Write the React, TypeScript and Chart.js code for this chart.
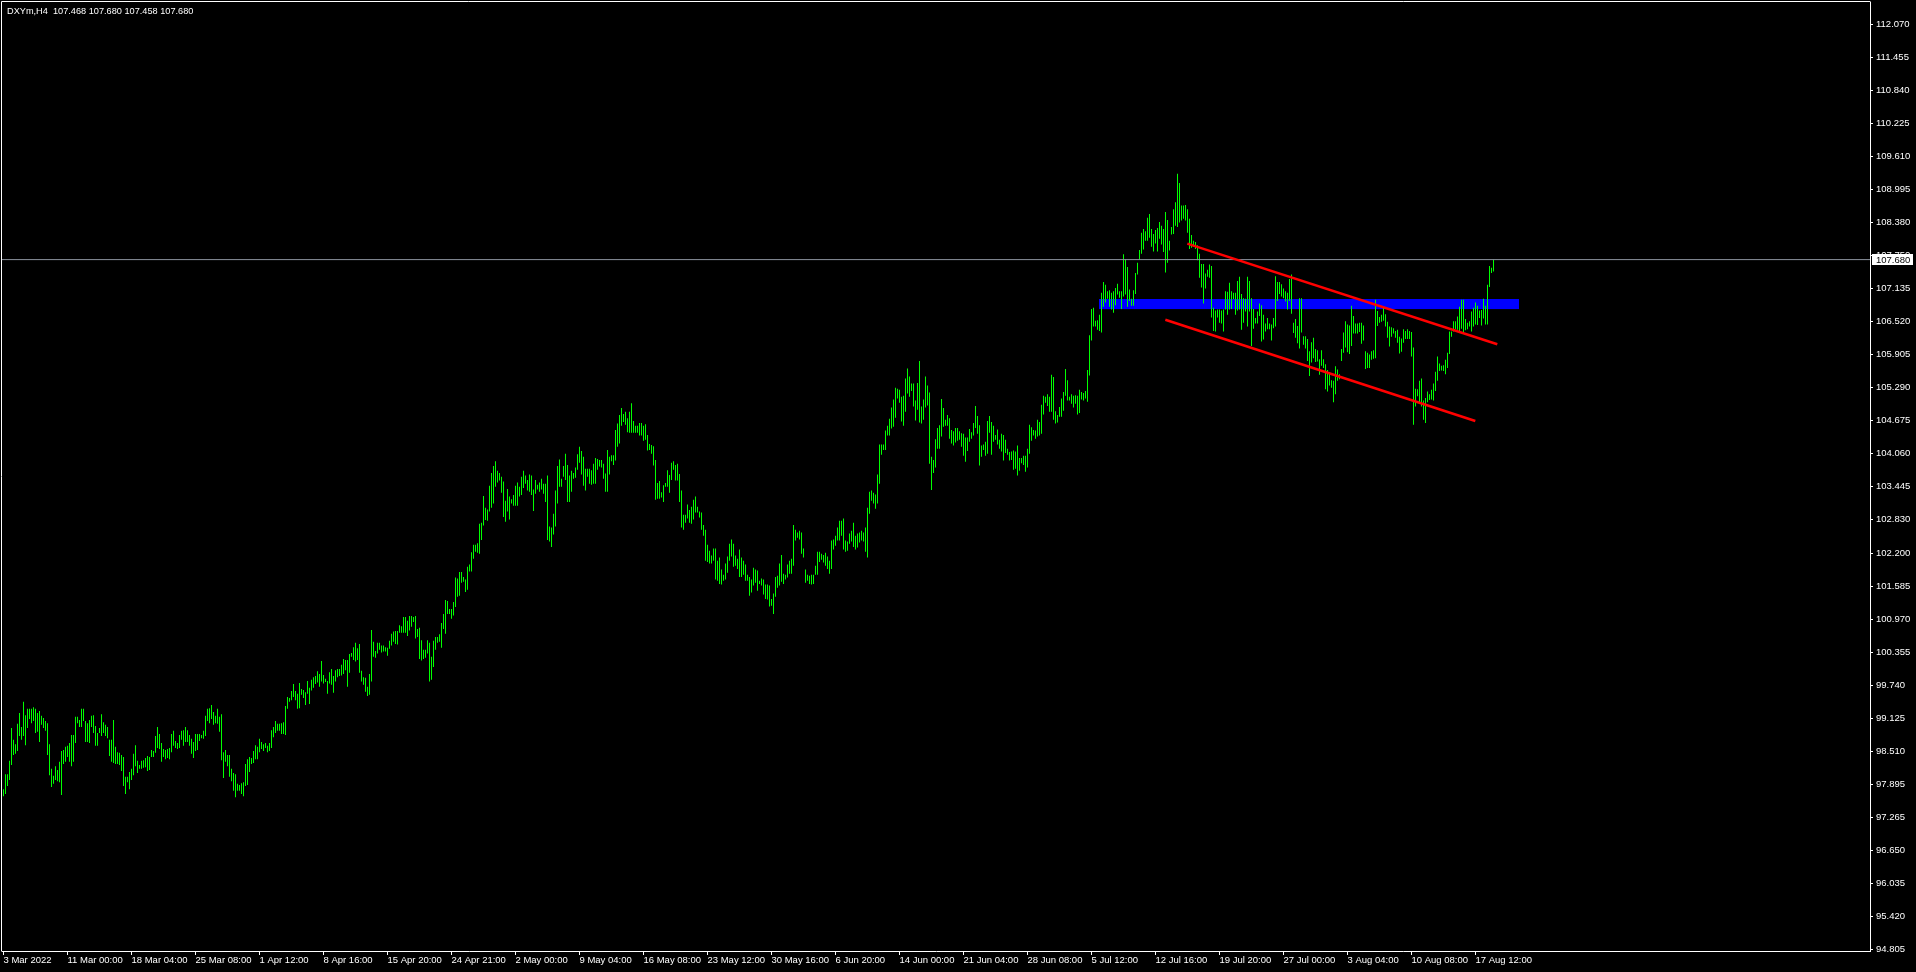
import { useEffect, useRef } from "react";
import { Chart, registerables } from "chart.js";

Chart.register(...registerables);

const chartTitle = "DXYm,H4  107.468 107.680 107.458 107.680";

const barHigh = [
  97.80, 98.08, 98.08, 98.33, 98.94, 98.72, 98.64, 99.02, 99.22, 98.96,
  99.43, 99.18, 99.30, 99.30, 99.30, 99.33, 99.30, 99.22, 99.26, 99.17,
  99.13, 99.07, 99.03, 98.64, 98.18, 98.05, 98.23, 98.16, 98.31, 98.51,
  98.53, 98.59, 98.61, 98.66, 98.81, 98.81, 99.15, 99.15, 99.09, 99.30,
  99.30, 99.07, 99.03, 99.09, 99.17, 99.18, 98.98, 98.85, 98.94, 99.20,
  99.05, 99.00, 98.96, 98.72, 98.72, 99.09, 98.59, 98.49, 98.48, 98.44,
  98.40, 98.03, 98.03, 98.12, 98.18, 98.46, 98.62, 98.33, 98.25, 98.33,
  98.34, 98.38, 98.42, 98.40, 98.53, 98.51, 98.79, 98.96, 98.83, 98.66,
  98.55, 98.53, 98.55, 98.57, 98.83, 98.89, 98.70, 98.66, 98.81, 98.89,
  98.90, 98.96, 98.90, 98.81, 98.74, 98.68, 98.83, 98.83, 98.83, 98.81,
  98.89, 99.17, 99.30, 99.31, 99.37, 99.24, 99.17, 99.30, 99.15, 99.20,
  98.49, 98.53, 98.44, 98.44, 98.18, 98.10, 98.08, 97.90, 97.88, 97.91,
  97.93, 98.27, 98.36, 98.40, 98.38, 98.51, 98.62, 98.59, 98.74, 98.68,
  98.64, 98.66, 98.61, 98.66, 98.90, 98.96, 99.07, 99.02, 99.02, 99.03,
  99.05, 99.35, 99.52, 99.50, 99.63, 99.76, 99.63, 99.58, 99.78, 99.67,
  99.65, 99.61, 99.82, 99.69, 99.84, 99.89, 99.91, 100.00, 99.95, 100.19,
  99.93, 99.86, 99.82, 99.98, 100.04, 99.91, 100.02, 100.04, 100.04, 100.12,
  100.23, 100.21, 100.21, 100.32, 100.34, 100.45, 100.53, 100.43, 100.51, 100.01,
  99.89, 99.88, 99.71, 99.95, 100.77, 100.55, 100.38, 100.53, 100.53, 100.48,
  100.48, 100.45, 100.44, 100.57, 100.70, 100.74, 100.75, 100.75, 100.86, 100.84,
  101.01, 101.01, 100.94, 101.03, 101.03, 101.01, 101.03, 100.79, 100.81, 100.58,
  100.40, 100.40, 100.58, 100.53, 100.27, 100.57, 100.64, 100.64, 100.69, 100.90,
  101.07, 101.33, 101.31, 101.16, 101.16, 101.29, 101.75, 101.73, 101.85, 101.85,
  101.76, 101.71, 101.95, 101.99, 102.22, 102.36, 102.36, 102.39, 102.75, 102.77,
  103.27, 103.05, 103.02, 103.46, 103.70, 103.83, 103.92, 103.74, 103.70, 103.63,
  103.54, 103.18, 103.40, 103.26, 103.21, 103.29, 103.46, 103.52, 103.44, 103.63,
  103.74, 103.65, 103.57, 103.67, 103.65, 103.39, 103.57, 103.48, 103.52, 103.59,
  103.50, 103.50, 103.65, 102.70, 102.68, 102.94, 103.37, 103.83, 103.95, 103.59,
  103.83, 104.06, 103.85, 103.65, 103.74, 103.70, 103.80, 104.05, 104.19, 104.11,
  104.00, 103.78, 103.78, 103.78, 103.75, 103.87, 103.98, 103.96, 103.94, 103.94,
  103.87, 103.69, 104.13, 104.00, 104.03, 104.03, 104.50, 104.62, 104.78, 104.91,
  104.80, 104.84, 104.72, 104.84, 105.00, 104.67, 104.58, 104.58, 104.63, 104.63,
  104.58, 104.61, 104.41, 104.24, 104.22, 104.20, 103.94, 103.51, 103.55, 103.34,
  103.47, 103.51, 103.75, 103.66, 103.89, 103.92, 103.85, 103.87, 103.68, 103.37,
  102.92, 102.92, 103.11, 103.01, 103.07, 103.20, 103.26, 103.07, 102.98, 102.96,
  102.73, 102.64, 102.36, 102.25, 102.16, 102.29, 102.29, 102.06, 102.12, 101.90,
  101.80, 102.01, 102.14, 102.38, 102.46, 102.38, 102.16, 102.10, 102.27, 102.12,
  102.06, 101.99, 101.80, 101.76, 101.71, 101.93, 101.90, 101.88, 101.69, 101.73,
  101.71, 101.62, 101.62, 101.60, 101.35, 101.45, 101.76, 101.78, 102.01, 102.17,
  101.82, 101.80, 101.99, 102.06, 102.10, 102.73, 102.64, 102.59, 102.62, 102.59,
  102.29, 101.90, 101.80, 101.78, 101.80, 101.80, 101.97, 102.23, 102.23, 102.19,
  102.17, 102.21, 102.14, 102.06, 102.44, 102.46, 102.53, 102.68, 102.81, 102.81,
  102.85, 102.44, 102.42, 102.57, 102.62, 102.77, 102.53, 102.57, 102.59, 102.62,
  102.59, 102.68, 103.05, 103.35, 103.37, 103.33, 103.30, 103.67, 104.23, 104.23,
  104.23, 104.49, 104.58, 104.71, 104.92, 105.07, 105.29, 105.27, 105.25, 105.12,
  105.14, 105.46, 105.65, 105.50, 105.37, 105.37, 105.05, 105.38, 105.79, 104.94,
  105.07, 105.50, 105.33, 105.20, 104.00, 103.94, 104.33, 104.54, 104.59, 105.08,
  104.91, 104.69, 104.78, 104.72, 104.50, 104.48, 104.54, 104.54, 104.48, 104.44,
  104.43, 104.36, 104.36, 104.52, 104.46, 104.63, 104.95, 104.76, 104.59, 104.21,
  104.23, 104.28, 104.67, 104.76, 104.65, 104.58, 104.41, 104.51, 104.32, 104.43,
  104.41, 104.32, 104.15, 104.09, 104.10, 104.12, 104.10, 104.21, 103.98, 103.98,
  104.02, 104.02, 104.15, 104.60, 104.55, 104.50, 104.49, 104.69, 104.65, 104.97,
  105.14, 105.12, 105.17, 105.12, 105.53, 105.49, 104.85, 104.78, 104.93, 105.09,
  105.21, 105.64, 105.43, 105.12, 105.17, 105.14, 105.15, 105.14, 105.25, 105.21,
  105.19, 105.23, 105.62, 106.27, 106.76, 106.78, 106.54, 106.55, 106.65, 107.06,
  107.26, 107.21, 107.09, 107.11, 107.06, 107.09, 107.15, 107.23, 107.09, 107.09,
  107.78, 107.69, 107.54, 107.12, 106.95, 107.11, 107.43, 107.62, 107.86, 108.18,
  108.25, 108.21, 108.46, 108.53, 108.25, 108.16, 108.23, 108.27, 108.38, 108.31,
  108.25, 108.57, 108.42, 108.03, 108.29, 108.62, 108.75, 109.28, 109.11, 108.69,
  108.69, 108.70, 108.62, 108.44, 108.14, 108.03, 108.01, 107.95, 107.79, 107.60,
  107.60, 107.42, 107.49, 107.59, 107.56, 106.78, 106.73, 106.75, 106.75, 106.73,
  106.75, 107.09, 107.08, 107.25, 107.09, 107.06, 107.06, 107.28, 107.36, 107.04,
  106.96, 106.95, 107.36, 107.28, 106.96, 106.76, 106.59, 106.71, 106.86, 106.83,
  106.65, 106.49, 106.59, 106.49, 106.47, 106.59, 107.37, 107.26, 107.26, 107.22,
  107.14, 107.09, 107.06, 107.32, 107.40, 106.50, 106.57, 106.44, 106.96, 106.96,
  106.25, 106.25, 106.20, 105.97, 106.14, 106.22, 106.01, 105.99, 105.82, 105.99,
  105.82, 105.73, 105.62, 105.58, 105.43, 105.42, 105.69, 105.63, 105.54, 106.01,
  106.32, 106.53, 106.47, 106.45, 106.82, 106.63, 106.49, 106.49, 106.50, 106.50,
  106.45, 105.97, 105.94, 105.91, 105.97, 105.99, 106.93, 106.72, 106.61, 106.65,
  106.78, 106.66, 106.52, 106.43, 106.42, 106.40, 106.35, 106.37, 106.24, 106.21,
  106.38, 106.35, 106.38, 106.35, 106.33, 106.04, 105.27, 105.26, 105.42, 105.46,
  105.05, 105.10, 105.22, 105.17, 105.25, 105.37, 105.59, 105.87, 105.74, 105.70,
  105.71, 105.81, 105.94, 106.34, 106.34, 106.53, 106.53, 106.62, 106.80, 106.93,
  106.93, 106.57, 106.50, 106.53, 106.71, 106.78, 106.88, 106.82, 106.73, 106.74,
  106.95, 106.82, 107.21, 107.56, 107.53, 107.68,
];

const barLow = [
  97.67, 97.71, 97.86, 97.97, 98.25, 98.44, 98.46, 98.51, 98.79, 98.72,
  98.79, 98.62, 98.94, 99.11, 99.03, 99.07, 98.85, 98.87, 98.68, 99.00,
  98.94, 98.89, 98.44, 98.06, 97.84, 97.90, 97.97, 97.95, 97.93, 97.69,
  98.27, 98.31, 98.40, 98.31, 98.23, 98.31, 98.66, 99.03, 98.96, 98.96,
  99.07, 98.68, 98.68, 98.66, 98.96, 98.85, 98.61, 98.61, 98.85, 98.79,
  98.85, 98.79, 98.75, 98.42, 98.31, 98.29, 98.27, 98.27, 98.25, 98.14,
  97.86, 97.71, 97.93, 97.80, 97.97, 98.06, 98.23, 98.10, 98.18, 98.18,
  98.20, 98.21, 98.14, 98.16, 98.40, 98.40, 98.48, 98.57, 98.55, 98.31,
  98.40, 98.36, 98.38, 98.36, 98.49, 98.61, 98.57, 98.55, 98.57, 98.72,
  98.61, 98.68, 98.68, 98.61, 98.46, 98.38, 98.51, 98.53, 98.70, 98.75,
  98.74, 98.79, 99.07, 99.03, 99.11, 99.00, 99.03, 99.02, 98.87, 98.34,
  98.01, 98.31, 98.23, 98.03, 97.95, 97.77, 97.65, 97.77, 97.77, 97.71,
  97.67, 97.86, 97.88, 98.12, 98.27, 98.29, 98.36, 98.36, 98.49, 98.55,
  98.51, 98.57, 98.49, 98.51, 98.57, 98.77, 98.85, 98.89, 98.89, 98.83,
  98.83, 98.81, 99.30, 99.43, 99.46, 99.52, 99.46, 99.30, 99.31, 99.56,
  99.50, 99.37, 99.58, 99.39, 99.64, 99.69, 99.76, 99.79, 99.71, 99.81,
  99.77, 99.80, 99.58, 99.77, 99.75, 99.60, 99.81, 99.89, 99.91, 99.92,
  99.95, 100.02, 99.71, 99.97, 100.27, 100.21, 100.18, 100.21, 99.97, 99.81,
  99.75, 99.62, 99.54, 99.56, 99.81, 100.27, 100.25, 100.33, 100.40, 100.35,
  100.37, 100.37, 100.29, 100.42, 100.48, 100.55, 100.51, 100.50, 100.72, 100.72,
  100.72, 100.72, 100.66, 100.76, 100.83, 100.92, 100.61, 100.64, 100.23, 100.20,
  100.23, 100.25, 100.33, 99.81, 99.84, 100.08, 100.40, 100.53, 100.55, 100.44,
  100.79, 100.70, 101.07, 101.07, 100.98, 101.04, 101.20, 101.39, 101.41, 101.65,
  101.67, 101.48, 101.52, 101.86, 101.86, 102.10, 102.23, 102.21, 102.19, 102.45,
  102.72, 102.82, 102.81, 102.98, 103.05, 103.13, 103.44, 103.52, 103.56, 103.33,
  102.88, 102.79, 102.98, 102.83, 103.13, 103.09, 103.09, 103.09, 103.26, 103.29,
  103.42, 103.50, 103.37, 103.35, 103.29, 102.99, 103.31, 103.39, 103.35, 103.39,
  103.31, 103.16, 102.45, 102.42, 102.32, 102.55, 102.70, 103.13, 103.44, 103.44,
  103.63, 103.57, 103.16, 103.16, 103.35, 103.59, 103.61, 103.76, 103.89, 103.67,
  103.46, 103.37, 103.63, 103.50, 103.48, 103.50, 103.50, 103.76, 103.82, 103.80,
  103.59, 103.35, 103.35, 103.67, 103.92, 103.85, 103.93, 104.19, 104.25, 104.58,
  104.65, 104.60, 104.46, 104.45, 104.45, 104.45, 104.45, 104.45, 104.40, 104.40,
  104.30, 104.32, 104.12, 104.13, 104.06, 103.84, 103.20, 103.22, 103.22, 103.24,
  103.16, 103.44, 103.44, 103.33, 103.57, 103.76, 103.56, 103.56, 103.16, 102.68,
  102.64, 102.77, 102.85, 102.77, 102.75, 102.83, 102.96, 102.96, 102.87, 102.64,
  102.53, 102.06, 102.04, 102.01, 102.01, 102.06, 101.71, 101.69, 101.63, 101.62,
  101.69, 101.71, 101.84, 102.06, 102.14, 101.95, 101.97, 101.91, 101.76, 101.76,
  101.80, 101.69, 101.69, 101.41, 101.47, 101.60, 101.65, 101.50, 101.63, 101.60,
  101.43, 101.35, 101.34, 101.21, 101.22, 101.07, 101.39, 101.56, 101.60, 101.67,
  101.63, 101.71, 101.75, 101.82, 101.82, 101.97, 102.44, 102.49, 102.46, 102.19,
  102.12, 101.65, 101.69, 101.63, 101.62, 101.63, 101.80, 101.80, 102.04, 102.08,
  102.03, 101.97, 101.91, 101.82, 101.91, 102.27, 102.34, 102.44, 102.44, 102.53,
  102.27, 102.23, 102.25, 102.38, 102.42, 102.32, 102.27, 102.31, 102.40, 102.44,
  102.42, 102.23, 102.12, 102.94, 103.18, 103.13, 103.03, 103.13, 103.50, 104.04,
  104.13, 104.13, 104.40, 104.40, 104.53, 104.56, 104.73, 105.09, 105.01, 104.66,
  104.58, 104.84, 105.18, 105.12, 105.23, 104.94, 104.68, 104.88, 104.64, 104.62,
  104.69, 104.92, 104.96, 103.87, 103.38, 103.70, 103.80, 104.15, 104.15, 104.38,
  104.56, 104.58, 104.58, 104.34, 104.25, 104.21, 104.27, 104.30, 104.32, 104.19,
  104.02, 103.91, 104.11, 104.28, 104.34, 104.40, 104.54, 104.43, 103.84, 104.00,
  104.13, 104.02, 104.06, 104.45, 104.04, 104.28, 104.32, 104.23, 104.15, 104.10,
  103.93, 104.07, 104.04, 103.93, 103.94, 103.76, 103.78, 103.65, 103.74, 103.88,
  103.85, 103.72, 103.80, 104.06, 104.30, 104.40, 104.34, 104.38, 104.40, 104.43,
  104.79, 105.01, 104.95, 104.84, 104.84, 104.69, 104.62, 104.64, 104.75, 104.75,
  104.86, 105.14, 105.05, 105.05, 104.99, 104.92, 104.99, 104.79, 104.82, 105.07,
  105.05, 105.09, 105.03, 105.52, 106.17, 106.43, 106.43, 106.37, 106.35, 106.32,
  106.80, 106.88, 106.95, 106.80, 106.75, 106.69, 106.83, 107.03, 106.97, 106.76,
  106.99, 107.03, 106.80, 106.91, 106.82, 106.82, 107.04, 107.40, 107.68, 107.79,
  107.87, 108.03, 108.03, 108.09, 107.92, 107.83, 107.98, 107.83, 108.07, 107.96,
  107.82, 107.44, 107.62, 107.85, 108.15, 108.16, 108.31, 108.29, 108.37, 108.41,
  108.44, 108.41, 108.18, 107.88, 107.90, 107.92, 107.88, 107.67, 107.34, 107.16,
  106.86, 107.14, 107.36, 107.34, 106.60, 106.35, 106.34, 106.60, 106.50, 106.49,
  106.34, 106.75, 106.65, 106.75, 106.76, 106.94, 106.65, 106.73, 106.75, 106.37,
  106.50, 106.71, 106.43, 106.71, 106.07, 106.39, 106.49, 106.49, 106.63, 106.15,
  106.19, 106.34, 106.38, 106.38, 106.17, 106.40, 106.43, 106.91, 107.04, 106.99,
  106.96, 106.90, 106.75, 106.91, 106.67, 106.31, 106.22, 106.12, 106.02, 106.32,
  106.09, 106.02, 105.79, 105.51, 105.76, 105.84, 105.77, 105.78, 105.53, 105.70,
  105.66, 105.26, 105.22, 105.33, 105.29, 105.02, 105.17, 105.42, 105.45, 105.79,
  105.94, 106.04, 105.95, 105.92, 106.07, 106.30, 106.30, 106.30, 106.33, 106.11,
  106.17, 105.64, 105.66, 105.66, 105.81, 105.83, 105.84, 106.44, 106.50, 106.52,
  106.54, 106.43, 106.22, 106.06, 106.24, 106.30, 106.22, 106.13, 105.93, 105.96,
  106.13, 106.20, 106.20, 106.20, 105.87, 104.60, 104.94, 105.13, 105.02, 104.94,
  104.69, 104.63, 105.02, 105.06, 105.07, 105.05, 105.23, 105.42, 105.60, 105.61,
  105.60, 105.54, 105.66, 105.92, 106.24, 106.34, 106.38, 106.37, 106.35, 106.39,
  106.30, 106.36, 106.38, 106.43, 106.34, 106.43, 106.47, 106.46, 106.59, 106.45,
  106.58, 106.47, 106.47, 107.17, 107.43, 107.46,
];

const xTickIndex = [
  0, 32, 64, 96, 128, 160, 192, 224, 256, 288, 320, 352,
  384, 416, 448, 480, 512, 544, 576, 608, 640, 672, 704, 736,
];
const xTickLabels = [
  "3 Mar 2022", "11 Mar 00:00", "18 Mar 04:00", "25 Mar 08:00", "1 Apr 12:00", "8 Apr 16:00",
  "15 Apr 20:00", "24 Apr 21:00", "2 May 00:00", "9 May 04:00", "16 May 08:00", "23 May 12:00",
  "30 May 16:00", "6 Jun 20:00", "14 Jun 00:00", "21 Jun 04:00", "28 Jun 08:00", "5 Jul 12:00",
  "12 Jul 16:00", "19 Jul 20:00", "27 Jul 00:00", "3 Aug 04:00", "10 Aug 08:00", "17 Aug 12:00",
];

const yTickValues = [
  112.07, 111.455, 110.84, 110.225, 109.61, 108.995, 108.38, 107.75, 107.135, 106.52,
  105.905, 105.29, 104.675, 104.06, 103.445, 102.83, 102.2, 101.585, 100.97, 100.355,
  99.74, 99.125, 98.51, 97.895, 97.265, 96.65, 96.035, 95.42, 94.805,
];

const currentPrice = 107.68;
const zoneX = [547.75, 757.75];
const zoneY = [106.945, 106.757];
const upperLineX = [591.9, 746.9];
const upperLineY = [107.977, 106.1];
const lowerLineX = [580.9, 735.9];
const lowerLineY = [106.559, 104.669];

const yMin = 94.781;
const yMax = 112.486;
const xMin = -0.75;
const xMax = 933.25;

const FONT = "'Liberation Sans', Arial, sans-serif";

export default function App() {
  const ref = useRef<HTMLCanvasElement | null>(null);

  useEffect(() => {
    const canvas = ref.current;
    if (!canvas) return;

    const decor = {
      id: "mt4decor",
      beforeDatasetsDraw(chart: any) {
        const { ctx } = chart;
        const xs = chart.scales.x;
        const ys = chart.scales.y;
        const x1 = xs.getPixelForValue(zoneX[0]);
        const x2 = xs.getPixelForValue(zoneX[1]);
        const y1 = ys.getPixelForValue(zoneY[0]);
        const y2 = ys.getPixelForValue(zoneY[1]);
        ctx.save();
        ctx.fillStyle = "#0000ff";
        ctx.fillRect(x1, y1, x2 - x1, y2 - y1);
        ctx.restore();
      },
      afterDraw(chart: any) {
        const { ctx, chartArea } = chart;
        const ys = chart.scales.y;
        ctx.save();
        ctx.strokeStyle = "#ffffff";
        ctx.lineWidth = 1;
        ctx.beginPath();
        ctx.moveTo(chartArea.left - 0.5, chartArea.bottom + 0.5);
        ctx.lineTo(chartArea.left - 0.5, chartArea.top - 0.5);
        ctx.lineTo(chartArea.right + 0.5, chartArea.top - 0.5);
        ctx.stroke();
        ctx.fillStyle = "#ffffff";
        ctx.font = `9.2px ${FONT}`;
        ctx.textBaseline = "middle";
        ctx.textAlign = "left";
        ctx.fillText(chartTitle, 7, 11);
        const py = Math.round(ys.getPixelForValue(currentPrice));
        ctx.fillStyle = "#ffffff";
        ctx.fillRect(chartArea.right + 2, py - 6, 41, 11);
        ctx.fillStyle = "#000000";
        ctx.font = `9.5px ${FONT}`;
        ctx.fillText(currentPrice.toFixed(3), chartArea.right + 6, py);
        ctx.restore();
      },
    };

    const chart = new Chart(canvas, {
      type: "bar",
      data: {
        datasets: [
          {
            type: "line",
            data: [
              { x: upperLineX[0], y: upperLineY[0] },
              { x: upperLineX[1], y: upperLineY[1] },
            ],
            borderColor: "#ff0000",
            borderWidth: 2.5,
            pointRadius: 0,
            fill: false,
            order: 1,
          },
          {
            type: "line",
            data: [
              { x: lowerLineX[0], y: lowerLineY[0] },
              { x: lowerLineX[1], y: lowerLineY[1] },
            ],
            borderColor: "#ff0000",
            borderWidth: 2.5,
            pointRadius: 0,
            fill: false,
            order: 1,
          },
          {
            type: "line",
            data: [
              { x: xMin, y: currentPrice },
              { x: xMax, y: currentPrice },
            ],
            borderColor: "#8a919c",
            borderWidth: 1,
            pointRadius: 0,
            fill: false,
            order: 2,
          },
          {
            type: "bar",
            data: barHigh.map((h, i) => ({ x: i, y: [barLow[i], h] })) as any,
            backgroundColor: "#00ff00",
            borderWidth: 0,
            barThickness: 1,
            maxBarThickness: 1,
            inflateAmount: 0,
            order: 3,
          } as any,
        ],
      },
      options: {
        animation: false,
        responsive: false,
        devicePixelRatio: 1,
        events: [],
        layout: { padding: { left: 2, top: 2, right: 0, bottom: 0 } },
        plugins: { legend: { display: false }, tooltip: { enabled: false } },
        scales: {
          x: {
            type: "linear",
            min: xMin,
            max: xMax,
            offset: false,
            position: "bottom",
            afterFit: (s: any) => {
              s.height = 21;
              s.paddingLeft = 0;
              s.paddingRight = 0;
            },
            afterBuildTicks: (s: any) => {
              s.ticks = xTickIndex.map((v) => ({ value: v }));
            },
            grid: {
              drawOnChartArea: false,
              drawTicks: true,
              tickLength: 4,
              color: "#ffffff",
              offset: false,
            },
            border: { display: true, color: "#ffffff", width: 1 },
            ticks: {
              autoSkip: false,
              maxRotation: 0,
              minRotation: 0,
              align: "start",
              padding: 0,
              color: "#ffffff",
              font: { family: FONT, size: 9.5 },
              callback: (_v: any, i: number) => xTickLabels[i],
            },
          },
          y: {
            type: "linear",
            position: "right",
            min: yMin,
            max: yMax,
            afterFit: (s: any) => {
              s.width = 46;
              s.paddingTop = 0;
              s.paddingBottom = 0;
            },
            afterBuildTicks: (s: any) => {
              s.ticks = yTickValues.map((v) => ({ value: v }));
            },
            grid: {
              drawOnChartArea: false,
              drawTicks: true,
              tickLength: 3,
              color: "#ffffff",
            },
            border: { display: true, color: "#ffffff", width: 1 },
            ticks: {
              autoSkip: false,
              padding: 3,
              color: "#ffffff",
              font: { family: FONT, size: 9.5 },
              callback: (v: any) => Number(v).toFixed(3),
            },
          },
        },
      } as any,
      plugins: [decor],
    });

    return () => chart.destroy();
  }, []);

  return (
    <div
      style={{
        position: "fixed",
        left: 0,
        top: 0,
        width: 1916,
        height: 972,
        background: "#000000",
      }}
    >
      <canvas
        ref={ref}
        width={1916}
        height={972}
        style={{ display: "block", width: 1916, height: 972, background: "#000000" }}
      />
    </div>
  );
}
